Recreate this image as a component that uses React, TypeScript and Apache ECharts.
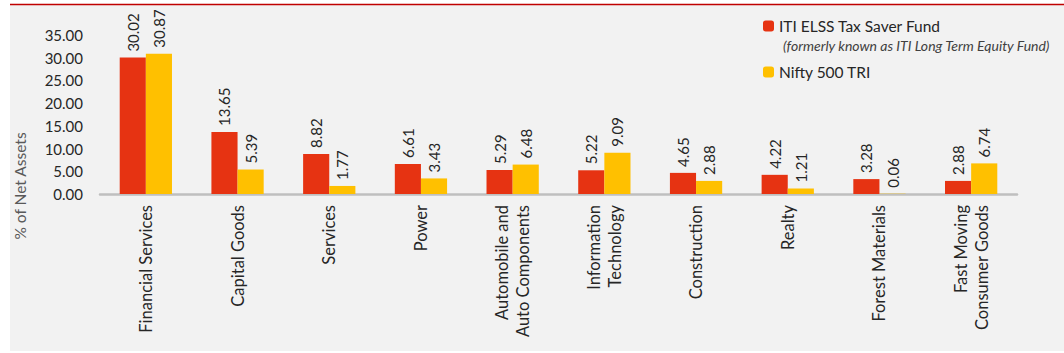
import React, { useEffect, useRef } from "react";
import * as echarts from "echarts";

const categories = [
  "Financial Services",
  "Capital Goods",
  "Services",
  "Power",
  "Automobile and\nAuto Components",
  "Information\nTechnology",
  "Construction",
  "Realty",
  "Forest Materials",
  "Fast Moving\nConsumer Goods",
];
const fundName = "ITI ELSS Tax Saver Fund";
const fundNote = "(formerly known as ITI Long Term Equity Fund)";
const benchName = "Nifty 500 TRI";
const fundValues = [30.02, 13.65, 8.82, 6.61, 5.29, 5.22, 4.65, 4.22, 3.28, 2.88];
const benchValues = [30.87, 5.39, 1.77, 3.43, 6.48, 9.09, 2.88, 1.21, 0.06, 6.74];
const yAxisTitle = "% of Net Assets";

const FONT = "Lato, 'Open Sans', sans-serif";

export default function App() {
  const ref = useRef<HTMLDivElement>(null);
  useEffect(() => {
    document.body.style.margin = "0";
    const chart = echarts.init(ref.current!, undefined, { renderer: "svg" });
    const label = {
      show: true,
      position: "top",
      rotate: 90,
      align: "left",
      verticalAlign: "middle",
      distance: 6,
      color: "#262626",
      fontSize: 15,
      fontFamily: FONT,
      formatter: (p: any) => p.value.toFixed(2),
    };
    chart.setOption({
      animation: false,
      backgroundColor: "#ffffff",
      textStyle: { fontFamily: FONT },
      graphic: [
        {
          type: "rect",
          z: -10,
          silent: true,
          shape: { x: 10, y: 4, width: 1054, height: 347 },
          style: { fill: "#f2f2f2" },
        },
        {
          type: "line",
          z: -5,
          silent: true,
          shape: { x1: 10, y1: 4.5, x2: 1064, y2: 4.5 },
          style: { stroke: "#c00000", lineWidth: 1.5 },
        },
        {
          type: "text",
          left: 783,
          top: 38,
          style: {
            text: fundNote,
            fontSize: 14,
            fontStyle: "italic",
            fontFamily: FONT,
            fill: "#404040",
          },
        },
        {
          type: "text",
          x: 20,
          y: 186,
          rotation: Math.PI / 2,
          style: {
            text: yAxisTitle,
            fontSize: 15.5,
            fontFamily: FONT,
            fill: "#595959",
            align: "center",
            verticalAlign: "middle",
          },
        },
      ],
      legend: [
        {
          data: [fundName],
          left: 758,
          top: 13,
          itemWidth: 11,
          itemHeight: 11,
          itemGap: 10,
          textStyle: { fontSize: 15.5, color: "#262626", fontFamily: FONT },
          selectedMode: false,
        },
        {
          data: [benchName],
          left: 758,
          top: 59,
          itemWidth: 11,
          itemHeight: 11,
          textStyle: { fontSize: 15.5, color: "#262626", fontFamily: FONT },
          selectedMode: false,
        },
      ],
      grid: { left: 100, right: 47, top: 35, bottom: 159, containLabel: false },
      xAxis: {
        type: "category",
        data: categories,
        axisLine: { lineStyle: { color: "#bfbfbf", width: 2.5 } },
        axisTick: { show: false },
        axisLabel: {
          rotate: 90,
          interval: 0,
          margin: 11,
          fontSize: 16.5,
          lineHeight: 21,
          color: "#262626",
          fontFamily: FONT,
        },
      },
      yAxis: {
        type: "value",
        min: 0,
        max: 35,
        interval: 5,
        axisLine: { show: false },
        axisTick: { show: false },
        splitLine: { show: false },
        axisLabel: {
          fontSize: 15,
          color: "#262626",
          margin: 17,
          fontFamily: FONT,
          formatter: (v: number) => v.toFixed(2),
        },
      },
      series: [
        {
          name: fundName,
          type: "bar",
          data: fundValues,
          barGap: "0%",
          barCategoryGap: "43%",
          itemStyle: { color: "#e63312" },
          label,
        },
        {
          name: benchName,
          type: "bar",
          data: benchValues,
          itemStyle: { color: "#ffc000" },
          label,
        },
      ],
    });
    return () => chart.dispose();
  }, []);
  return <div ref={ref} style={{ width: 1064, height: 353 }} />;
}
